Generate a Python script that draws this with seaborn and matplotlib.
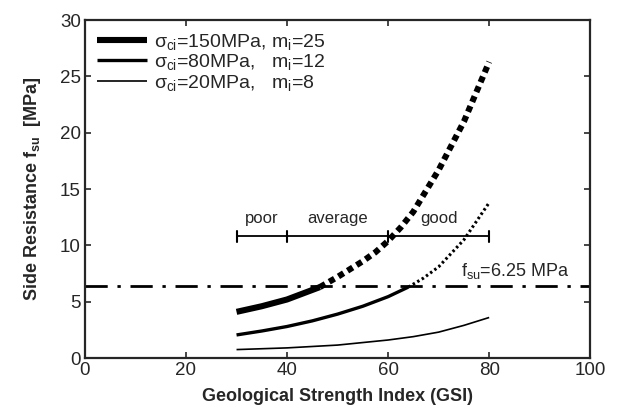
import numpy as np
import pandas as pd
import matplotlib
matplotlib.use("Agg")
import matplotlib.pyplot as plt
import seaborn as sns

# values
gsi_thick = [30, 35, 40, 46.5, 50, 55, 57.5, 60, 62.5, 65, 70, 75, 80]
fsu_thick = [4.1, 4.6, 5.2, 6.3, 7.2, 8.6, 9.4, 10.4, 11.6, 13.0, 16.7, 21.0, 26.3]
gsi_med = [30, 35, 40, 45, 50, 55, 60, 64, 67, 70, 75, 80]
fsu_med = [2.05, 2.4, 2.8, 3.3, 3.9, 4.6, 5.45, 6.3, 7.1, 8.1, 10.5, 13.8]
gsi_thin = [30, 40, 50, 60, 65, 70, 75, 80]
fsu_thin = [0.75, 0.9, 1.15, 1.6, 1.9, 2.3, 2.9, 3.6]
cross_thick = 46.5   # where the curve meets the f_su line
cross_med = 64
fsu_limit = 6.4
class_edges = [30, 40, 60, 80]
class_names = ["poor", "average", "good"]
class_y = 10.8

legend_labels = [r"$\sigma_{ci}$=150MPa, m$_i$=25",
                 r"$\sigma_{ci}$=80MPa,   m$_i$=12",
                 r"$\sigma_{ci}$=20MPa,   m$_i$=8"]

sns.set_style("ticks")
plt.rcParams["font.family"] = ["Liberation Sans", "DejaVu Sans"]
plt.rcParams["mathtext.fontset"] = "custom"
plt.rcParams["mathtext.rm"] = "Liberation Sans"
plt.rcParams["mathtext.it"] = "Liberation Sans"
plt.rcParams["mathtext.bf"] = "Liberation Sans:bold"

fig = plt.figure(figsize=(6.2, 4.12), dpi=100)
ax = fig.add_axes([0.137, 0.131, 0.815, 0.82])

def split(g, v, c):
    df = pd.DataFrame({"gsi": g, "fsu": v})
    return df[df.gsi <= c], df[df.gsi >= c]

t_sol, t_dot = split(gsi_thick, fsu_thick, cross_thick)
m_sol, m_dot = split(gsi_med, fsu_med, cross_med)
thin = pd.DataFrame({"gsi": gsi_thin, "fsu": fsu_thin})

sns.lineplot(data=t_sol, x="gsi", y="fsu", ax=ax, color="black", lw=4.4,
             label=legend_labels[0], solid_capstyle="butt")
sns.lineplot(data=m_sol, x="gsi", y="fsu", ax=ax, color="black", lw=2.4,
             label=legend_labels[1], solid_capstyle="butt")
sns.lineplot(data=thin, x="gsi", y="fsu", ax=ax, color="black", lw=1.2,
             label=legend_labels[2], solid_capstyle="butt")
sns.lineplot(data=t_dot, x="gsi", y="fsu", ax=ax, color="black", lw=4.4,
             linestyle=(0, (1, 0.75)), dash_capstyle="butt")
sns.lineplot(data=m_dot, x="gsi", y="fsu", ax=ax, color="black", lw=2.2,
             linestyle=(0, (0.8, 0.9)), dash_capstyle="butt")

ax.axhline(fsu_limit, color="black", lw=2.0, linestyle=(0, (8, 3.5, 1.2, 3.5)))
ax.text(74.5, fsu_limit + 0.45, r"f$_{su}$=6.25 MPa", fontsize=13, va="bottom")

# rock class bar
ax.plot([class_edges[0], class_edges[-1]], [class_y, class_y], color="black", lw=1.3)
for e in class_edges:
    ax.plot([e, e], [class_y - 0.5, class_y + 0.5], color="black", lw=1.5)
for i, name in enumerate(class_names):
    ax.text((class_edges[i] + class_edges[i + 1]) / 2, class_y + 0.9, name,
            ha="center", va="bottom", fontsize=12)

ax.set_xlim(0, 100)
ax.set_ylim(0, 30)
ax.set_xticks(range(0, 101, 20))
ax.set_yticks(range(0, 31, 5))
ax.tick_params(direction="in", top=True, right=True, labelsize=13.5,
               width=1.2, length=4, pad=3)
for s in ax.spines.values():
    s.set_linewidth(1.6)
ax.set_xlabel("Geological Strength Index (GSI)", fontsize=13, fontweight="bold",
              labelpad=6)
ax.set_ylabel(r"Side Resistance f$_{\mathbf{su}}$  [MPa]", fontsize=13,
              fontweight="bold", labelpad=12)

ax.legend(loc="upper left", frameon=False, fontsize=14, handlelength=2.6,
          labelspacing=0.02, borderaxespad=0.2, handletextpad=0.35)

fig.savefig("out.png", dpi=100)
